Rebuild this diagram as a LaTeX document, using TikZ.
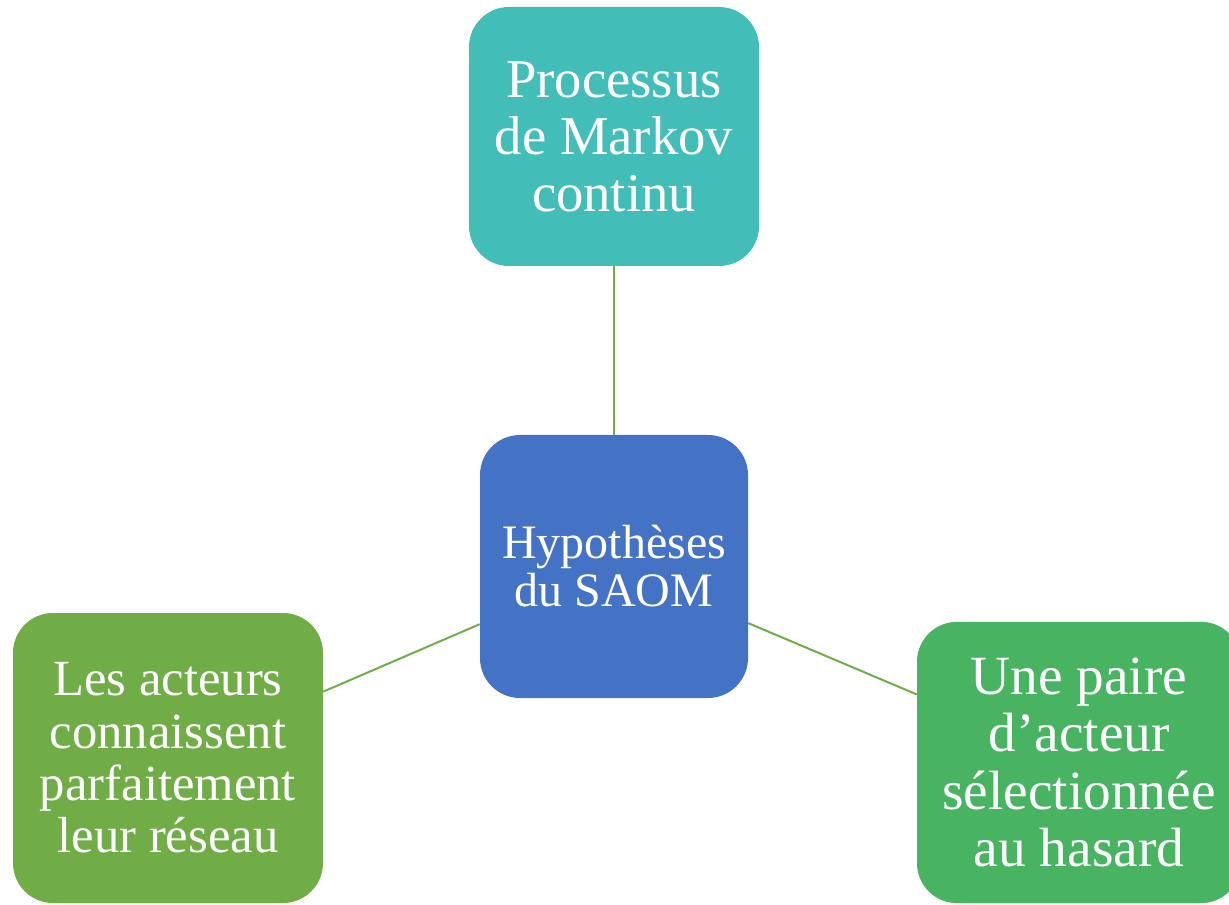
\documentclass[tikz,border=0pt]{standalone}
\usepackage{fontspec}
\setmainfont{Liberation Serif}
\usetikzlibrary{positioning}
\definecolor{markov}{HTML}{43BDB8}
\definecolor{saom}{HTML}{4472C4}
\definecolor{actgreen}{HTML}{70AD47}
\definecolor{pairgreen}{HTML}{48B462}
\definecolor{linkgreen}{HTML}{70AD47}

\begin{document}
\begin{tikzpicture}[x=0.75pt,y=-0.75pt]
	\useasboundingbox (0,0) rectangle (1229,905);
		\begin{scope}[every node/.style={rounded corners=30pt,text=white,align=center,inner sep=0pt}]
			\node[fill=markov,minimum width=217.5pt,minimum height=194.25pt,font=\fontsize{41}{42.75}\selectfont] (up) at (614,136.5) {Processus\\de Markov\\continu};
			\node[fill=saom,minimum width=201pt,minimum height=197.25pt,font=\fontsize{36}{36}\selectfont] (mid) at (614,566.5) {Hypothèses\\du SAOM};

			\node[fill=actgreen,minimum width=232.5pt,minimum height=217.5pt,font=\fontsize{38}{39.25}\selectfont] (lt) at (168,758) {Les acteurs\\connaissent\\parfaitement\\leur réseau};
			\node[fill=pairgreen,minimum width=243pt,minimum height=211pt,font=\fontsize{41.5}{43}\selectfont] (rt) at (1079,762.5) {Une paire\\d’acteur\\sélectionnée\\au hasard};
		\end{scope}
		\begin{scope}[every edge/.style={draw=linkgreen,line width=1.5pt}]
			\path (mid) edge (up);
			\path (mid) edge (lt);
			\path (mid) edge (rt);
		\end{scope}
	\end{tikzpicture}
\end{document}
